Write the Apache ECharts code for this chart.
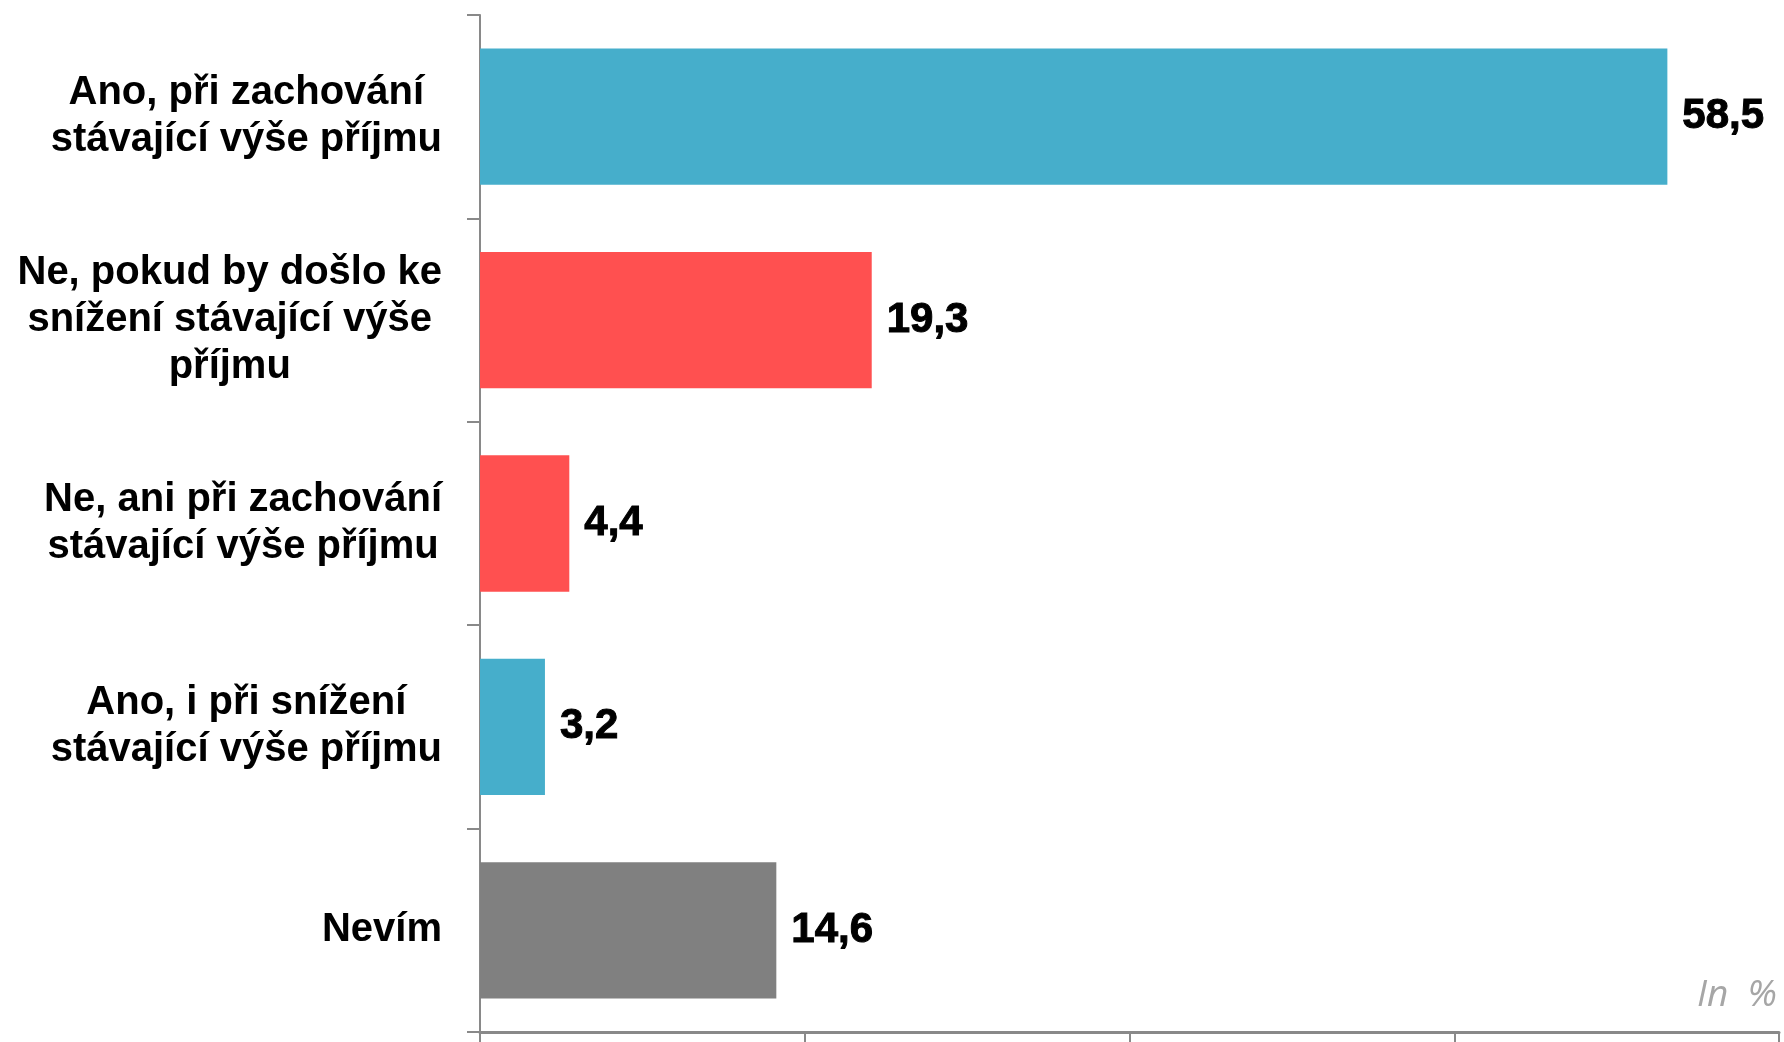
<!DOCTYPE html>
<html>
<head>
<meta charset="utf-8">
<script src="https://cdn.jsdelivr.net/npm/echarts@6/dist/echarts.min.js"></script>
<style>
  html, body { margin: 0; padding: 0; background: #ffffff; }
  #chart { width: 1784px; height: 1042px; }
</style>
</head>
<body>
<div id="chart"></div>
<script>
// Answer categories, top to bottom
const categories = [
  'Ano, při zachování\nstávající výše příjmu',
  'Ne, pokud by došlo ke\nsnížení stávající výše\npříjmu',
  'Ne, ani při zachování\nstávající výše příjmu',
  'Ano, i při snížení\nstávající výše příjmu',
  'Nevím'
];
// Share of respondents, in %
const values = [58.5, 19.3, 4.4, 3.2, 14.6];
// Bar colour per answer (blue = yes, red = no, grey = don't know)
const colors = ['#46AECB', '#FF5050', '#FF5050', '#46AECB', '#808080'];

const FONT = '"Liberation Sans", Arial, sans-serif';
const AXIS_GREY = '#898989';

const chart = echarts.init(document.getElementById('chart'), null, { renderer: 'canvas' });

chart.setOption({
  animation: false,
  backgroundColor: '#ffffff',
  grid: { left: 480, right: 5, top: 15, bottom: 10, containLabel: false },
  xAxis: {
    type: 'value',
    min: 0,
    max: 64,
    interval: 16,
    axisLine: { show: true, lineStyle: { color: AXIS_GREY, width: 3 } },
    axisTick: { show: true, length: 10, lineStyle: { color: AXIS_GREY, width: 2 } },
    axisLabel: { show: false },
    splitLine: { show: false }
  },
  yAxis: {
    type: 'category',
    inverse: true,
    data: categories,
    axisLine: { show: true, lineStyle: { color: AXIS_GREY, width: 2 } },
    axisTick: { show: true, length: 13, lineStyle: { color: AXIS_GREY, width: 2 } },
    axisLabel: {
      margin: 38,
      formatter: function (v) {
        return v.split('\n').map(function (l) { return '{c|' + l + '}'; }).join('\n');
      },
      rich: {
        c: {
          align: 'center',
          fontFamily: FONT,
          fontSize: 40,
          fontWeight: 'bold',
          color: '#000000',
          lineHeight: 47
        }
      }
    }
  },
  series: [{
    type: 'bar',
    data: values.map(function (v, i) {
      return { value: v, itemStyle: { color: colors[i] } };
    }),
    barWidth: '67%',
    label: {
      show: true,
      position: 'right',
      distance: 15,
      fontFamily: FONT,
      fontSize: 42,
      fontWeight: 'bold',
      color: '#000000',
      textBorderColor: '#000000',
      textBorderWidth: 1,
      formatter: function (p) { return p.value.toFixed(1).replace('.', ','); }
    }
  }],
  graphic: [{
    type: 'text',
    right: 7,
    top: 977,
    style: {
      text: 'In  %',
      font: 'italic 37px "Open Sans", "Liberation Sans", sans-serif',
      fill: '#a6a6a6'
    }
  }]
});
</script>
</body>
</html>
